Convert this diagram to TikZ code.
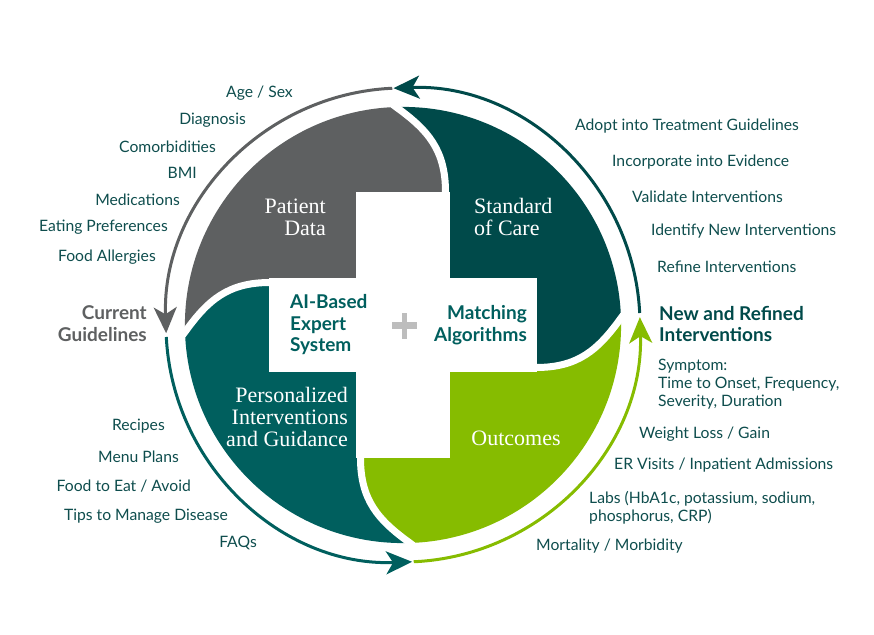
\documentclass[tikz,border=0pt]{standalone}
\usepackage{fontspec}
\newfontfamily\labelfont{Lato}
\newfontfamily\piecefont{Liberation Serif}
\usetikzlibrary{arrows.meta}

\definecolor{graydata}{HTML}{5E6061}
\definecolor{darkcare}{HTML}{004A4A}
\definecolor{tealguide}{HTML}{005F5E}
\definecolor{greenout}{HTML}{86BC00}
\definecolor{labelteal}{HTML}{0E4D4D}
\definecolor{plusgray}{HTML}{BDBDBD}

\tikzset{
  listitem/.style={font=\labelfont\fontsize{15.7}{18}\selectfont, text=labelteal, inner sep=0pt},
  sidehead/.style={font=\labelfont\bfseries\fontsize{19}{21.5}\selectfont, inner sep=0pt},
  centerhead/.style={font=\labelfont\bfseries\fontsize{19}{21.5}\selectfont, text=tealguide, inner sep=0pt},
  piecelabel/.style={font=\piecefont\fontsize{22}{22}\selectfont, text=white, inner sep=0pt},
  gapline/.style={white, line width=7pt},
  ringarrow/.style={line width=3pt, -{Stealth[length=26pt, width=23pt, inset=7pt]}}
}

\begin{document}
\begin{tikzpicture}[x=1pt, y=1pt]
  \useasboundingbox (-403,-309) rectangle (471,325);

  \foreach \ang/\col in {0/darkcare, 90/graydata, 180/tealguide, 270/greenout} {
    \begin{scope}[rotate=\ang]
      \fill[\col] (0,0) -- (133,-42.5) .. controls (175,-42.5) and (195,-25) .. (218,7)
        arc[start angle=1.84, end angle=91.84, radius=218.1]
        .. controls (25,195) and (42.5,175) .. (42.5,133) -- cycle;
    \end{scope}
  }
  \foreach \ang in {0,90,180,270} {
    \draw[gapline, rotate=\ang] (42.5,133) .. controls (42.5,175) and (25,195) .. (-7,218) -- (-15,224);
  }
  \fill[white] (-47,-133) rectangle (47,133);
  \fill[white] (-134,-47) rectangle (134,47);
  \fill[plusgray] (-11,-4) rectangle (14,3);
  \fill[plusgray] (-1,-14) rectangle (4,12);

  \coordinate (ringtop) at (92.6:237);
  \coordinate (ringleft) at (182.9:237);
  \coordinate (ringbottom) at (272.6:237);
  \coordinate (ringright) at (2.9:237);
  \draw[ringarrow, graydata] (ringtop) arc[start angle=92.6, end angle=182, radius=237];
  \draw[ringarrow, tealguide] (ringleft) arc[start angle=182.9, end angle=272.2, radius=237];
  \draw[ringarrow, greenout] (ringbottom) arc[start angle=272.6, end angle=361.9, radius=237];
  \draw[ringarrow, darkcare] (ringright) arc[start angle=2.9, end angle=92.3, radius=237];

  \node[piecelabel, align=right, anchor=east] (patient) at (-77,108) {Patient\\Data};
  \node[piecelabel, align=left, anchor=west] (standard) at (71,108) {Standard\\of Care};
  \node[piecelabel, align=right, anchor=east] (personal) at (-55,-92) {Personalized\\Interventions\\and Guidance};
  \node[piecelabel] (outcomes) at (113,-113) {Outcomes};
  \node[centerhead, align=left, anchor=west] (aibased) at (-113,0) {AI-Based\\Expert\\System};
  \node[centerhead, align=right, anchor=east] (matching) at (124,0) {Matching\\Algorithms};

  \node[listitem, anchor=east] (agesex) at (-110,232) {Age / Sex};
  \node[listitem, anchor=east] (diagnosis) at (-157,205) {Diagnosis};
  \node[listitem, anchor=east] (comorb) at (-187,178) {Comorbidities};
  \node[listitem, anchor=east] (bmi) at (-206,152) {BMI};
  \node[listitem, anchor=east] (medic) at (-223,125) {Medications};
  \node[listitem, anchor=east] (eating) at (-235,98) {Eating Preferences};
  \node[listitem, anchor=east] (allergy) at (-247,68) {Food Allergies};
  \node[sidehead, text=graydata, align=right, anchor=east] (current) at (-256,1.5) {Current\\Guidelines};

  \node[listitem, anchor=east] (recipes) at (-238,-101) {Recipes};
  \node[listitem, anchor=east] (menu) at (-224,-132) {Menu Plans};
  \node[listitem, anchor=east] (foodeat) at (-212,-161) {Food to Eat / Avoid};
  \node[listitem, anchor=east] (tips) at (-175,-191) {Tips to Manage Disease};
  \node[listitem, anchor=east] (faqs) at (-146,-218) {FAQs};

  \node[listitem, anchor=west] (adopt) at (172,199) {Adopt into Treatment Guidelines};
  \node[listitem, anchor=west] (incorp) at (209,163) {Incorporate into Evidence};
  \node[listitem, anchor=west] (validate) at (229,128) {Validate Interventions};
  \node[listitem, anchor=west] (identify) at (248,94) {Identify New Interventions};
  \node[listitem, anchor=west] (refine) at (254,58) {Refine Interventions};
  \node[sidehead, text=darkcare, align=left, anchor=west] (newref) at (256,1) {New and Refined\\Interventions};

  \node[listitem, align=left, anchor=west] (symptom) at (255,-59) {Symptom:\\Time to Onset, Frequency,\\Severity, Duration};
  \node[listitem, anchor=west] (weight) at (236,-109) {Weight Loss / Gain};
  \node[listitem, anchor=west] (ervisits) at (211,-140) {ER Visits / Inpatient Admissions};
  \node[listitem, align=left, anchor=west] (labs) at (186,-183) {Labs (HbA1c, potassium, sodium,\\phosphorus, CRP)};
  \node[listitem, anchor=west] (mortality) at (133,-221) {Mortality / Morbidity};
\end{tikzpicture}
\end{document}
